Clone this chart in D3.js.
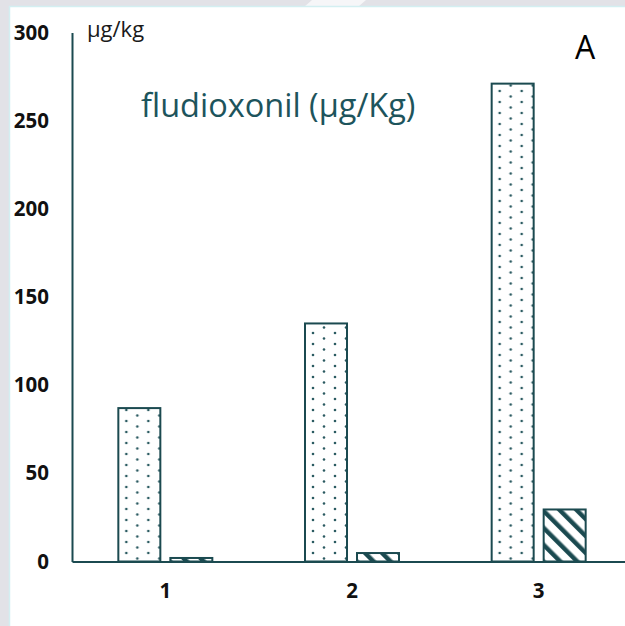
<!DOCTYPE html>
<html>
<head>
<meta charset="utf-8">
<script src="https://cdn.jsdelivr.net/npm/d3@7/dist/d3.min.js"></script>
<style>
  html, body { margin: 0; padding: 0; background: #fff; }
  svg { display: block; }
</style>
</head>
<body>
<script>
"use strict";

// Data.
const categories = ["1", "2", "3"];
const series = ["dotted", "hatched"];
const dottedValues = [87, 135, 271];
const hatchedValues = [2, 4.8, 29.5];
const yTicks = [0, 50, 100, 150, 200, 250, 300];

const width = 625, height = 626;
const ink = "#1b4a50";

const svg = d3.select("body").append("svg")
  .attr("width", width)
  .attr("height", height);

// Backdrop: grey slide border with the white panel on top.
svg.append("rect").attr("width", width).attr("height", height).attr("fill", "#e2e2e7");
svg.append("path").attr("d", "M312,0 L366,0 L358,7 L304,7 Z").attr("fill", "#f6f6f8");
svg.append("rect")
  .attr("x", 9.5).attr("y", 6.5)
  .attr("width", width).attr("height", height)
  .attr("fill", "#fff")
  .attr("stroke", "#d3eff1")
  .attr("stroke-width", 1.5);

// Fill patterns.
const defs = svg.append("defs");
const dots = defs.append("pattern")
  .attr("id", "dots")
  .attr("patternUnits", "userSpaceOnUse")
  .attr("width", 22).attr("height", 11);
dots.append("circle").attr("cx", 5).attr("cy", 3).attr("r", 1.3).attr("fill", "#2b5b61");
dots.append("circle").attr("cx", 16).attr("cy", 8.5).attr("r", 1.3).attr("fill", "#2b5b61");

const hatch = defs.append("pattern")
  .attr("id", "hatch")
  .attr("patternUnits", "userSpaceOnUse")
  .attr("width", 12).attr("height", 12)
  .attr("patternTransform", "rotate(-45)");
hatch.append("rect").attr("width", 12).attr("height", 12).attr("fill", "#fff");
hatch.append("rect").attr("x", 0).attr("y", 0).attr("width", 4.5).attr("height", 12).attr("fill", ink);

// Scales.
const x = d3.scaleBand().domain(categories).range([72, 632]);
const xSub = d3.scaleBand().domain(series).range([-47, 47]).paddingInner(10 / 52);
const y = d3.scaleLinear().domain([0, 300]).range([561.5, 32.5]);

const rows = categories.map((c, i) => ({
  cat: c,
  values: [
    {key: "dotted", v: dottedValues[i]},
    {key: "hatched", v: hatchedValues[i]}
  ]
}));

// Bars.
const groups = svg.selectAll(".grp")
  .data(rows)
  .enter().append("g")
  .attr("class", "grp")
  .attr("transform", d => "translate(" + (x(d.cat) + x.bandwidth() / 2) + ",0)");

groups.selectAll("rect")
  .data(d => d.values)
  .enter().append("rect")
  .attr("x", d => xSub(d.key))
  .attr("width", xSub.bandwidth())
  .attr("y", d => y(d.v))
  .attr("height", d => y(0) - y(d.v))
  .attr("fill", d => d.key === "dotted" ? "url(#dots)" : "url(#hatch)")
  .attr("stroke", ink)
  .attr("stroke-width", 2);

// Axes.
const yAxis = svg.append("g")
  .attr("transform", "translate(72,0)")
  .call(d3.axisLeft(y).tickValues(yTicks).tickSize(0).tickPadding(23).tickSizeOuter(0));
yAxis.select(".domain").attr("stroke", ink).attr("stroke-width", 2);
yAxis.selectAll("text")
  .attr("font-family", "'Open Sans', sans-serif")
  .attr("font-weight", 700)
  .attr("font-size", 20.5)
  .attr("fill", "#111");

const xAxis = svg.append("g")
  .attr("transform", "translate(0," + y(0) + ")")
  .call(d3.axisBottom(x).tickSize(0).tickPadding(22).tickSizeOuter(0));
xAxis.select(".domain").attr("stroke", ink).attr("stroke-width", 2);
xAxis.selectAll("text")
  .attr("font-family", "'Open Sans', sans-serif")
  .attr("font-weight", 700)
  .attr("font-size", 20.5)
  .attr("fill", "#111");

// Labels.
svg.append("text")
  .attr("x", 87).attr("y", 37)
  .attr("font-family", "'Open Sans', sans-serif")
  .attr("font-size", 22)
  .attr("fill", "#1a1a1a")
  .text("µg/kg");

svg.append("text")
  .attr("x", 141).attr("y", 117)
  .attr("font-family", "'Open Sans', sans-serif")
  .attr("font-size", 32.5)
  .attr("fill", "#1d545c")
  .text("fludioxonil (µg/Kg)");

svg.append("text")
  .attr("x", 575).attr("y", 59)
  .attr("font-family", "'Open Sans', sans-serif")
  .attr("font-size", 32)
  .attr("fill", "#000")
  .text("A");
</script>
</body>
</html>
